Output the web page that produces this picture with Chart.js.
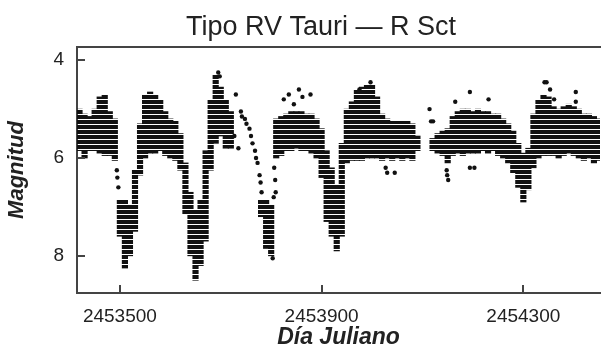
<!DOCTYPE html>
<html>
<head>
<meta charset="utf-8">
<script src="https://cdn.jsdelivr.net/npm/chart.js@4.4.1/dist/chart.umd.min.js"></script>
<style>
  body { margin: 0; background: #fff; }
  #wrap { width: 604px; height: 351px; }
</style>
</head>
<body>
<div id="wrap"><canvas id="grafico" width="604" height="351"></canvas></div>
<script>
// título e eixos
const tituloGrafico = 'Tipo RV Tauri \u2014 R Sct';
const tituloX = 'D\u00eda Juliano';
const tituloY = 'Magnitud';
const ticksX = [2453500, 2453900, 2454300];
const ticksY = [4, 6, 8];

// faixa densa de observações, caixas de 10 dias
const diasFaixa = [
  2453420, 2453430, 2453440, 2453450, 2453460, 2453470, 2453480, 2453490, 2453500,
  2453510, 2453520, 2453530, 2453540, 2453550, 2453560, 2453570, 2453580, 2453590,
  2453600, 2453610, 2453620, 2453630, 2453640, 2453650, 2453660, 2453670, 2453680,
  2453690, 2453700, 2453710, 2453720,
  2453780, 2453790, 2453800, 2453810, 2453820, 2453830, 2453840, 2453850, 2453860,
  2453870, 2453880, 2453890, 2453900, 2453910, 2453920, 2453930, 2453940, 2453950,
  2453960, 2453970, 2453980, 2453990, 2454000, 2454010, 2454020, 2454030, 2454040,
  2454050, 2454060, 2454070, 2454080, 2454090,
  2454120, 2454130, 2454140, 2454150, 2454160, 2454170, 2454180, 2454190, 2454200,
  2454210, 2454220, 2454230, 2454240, 2454250, 2454260, 2454270, 2454280, 2454290,
  2454300, 2454310, 2454320, 2454330, 2454340, 2454350, 2454360, 2454370, 2454380,
  2454390, 2454400, 2454410, 2454420, 2454430, 2454440, 2454450
];
const magMaisBrilhante = [
  5.0, 5.1, 5.15, 5.0, 4.75, 4.7, 5.05, 5.2, 6.85,
  6.85, 6.95, 6.25, 5.3, 4.7, 4.65, 4.7, 4.8, 5.05,
  5.2, 5.25, 5.5, 6.1, 6.7, 7.05, 6.85, 5.85, 4.8,
  4.3, 4.55, 4.8, 5.05,
  6.85, 6.85, 6.95, 5.2, 5.15, 5.1, 5.05, 5.05, 5.05,
  5.1, 5.1, 5.2, 5.4, 5.85, 6.2, 6.55, 5.7, 5.0,
  4.85, 4.6, 4.55, 4.5, 4.5, 4.75, 5.1, 5.2, 5.25,
  5.25, 5.25, 5.25, 5.3, 5.55,
  5.6, 5.5, 5.45, 5.4, 5.15, 5.05, 5.0, 5.0, 5.05,
  5.0, 5.05, 5.05, 5.1, 5.1, 5.2, 5.3, 5.45, 5.7,
  5.9, 5.8, 5.1, 4.8, 4.7, 4.75, 4.95, 5.0, 4.95,
  4.9, 4.95, 5.0, 5.1, 5.1, 5.15, 5.2
];
const magMaisFraca = [
  5.85, 6.0, 5.85, 5.85, 5.9, 5.95, 5.95, 6.05, 7.6,
  8.25, 8.0, 7.5, 6.35, 6.0, 5.9, 5.9, 5.85, 5.95,
  6.0, 6.05, 6.25, 7.15, 8.0, 8.5, 8.2, 7.7, 6.25,
  5.7, 5.55, 5.8, 5.8,
  7.2, 7.85, 8.0, 6.0, 5.95, 5.85, 5.85, 5.8, 5.85,
  5.85, 5.9, 6.0, 6.4, 7.3, 7.6, 7.9, 7.6, 6.1,
  6.05, 6.05, 6.05, 6.0, 6.0, 6.0, 6.05, 6.0, 6.05,
  6.0, 6.05, 6.0, 6.05, 5.85,
  5.85, 5.9, 5.95, 6.1, 5.95, 5.9, 5.95, 5.9, 5.9,
  5.9, 5.85, 5.9, 5.85, 5.95, 6.0, 6.1, 6.3, 6.6,
  6.9, 6.65, 6.2, 6.0, 5.95, 5.95, 5.95, 6.0, 5.95,
  5.9, 5.95, 6.0, 6.05, 6.0, 6.1, 6.05
];

// observações isoladas
const diasPontos = [
  2453494, 2453495, 2453497, 2453695, 2453698, 2453727, 2453730, 2453735,
  2453740, 2453742, 2453748, 2453751, 2453757, 2453760, 2453763, 2453768, 2453770,
  2453773, 2453777, 2453779, 2453781, 2453803, 2453805, 2453806, 2453808, 2453809,
  2453825, 2453835, 2453845, 2453855, 2453862, 2453878,
  2453975, 2453997, 2454027, 2454030, 2454045,
  2454114, 2454117, 2454121, 2454148, 2454149, 2454151, 2454165, 2454194, 2454194,
  2454203, 2454231, 2454342, 2454346, 2454353, 2454361, 2454404, 2454404
];
const magPontos = [
  6.25, 6.4, 6.6, 4.25, 4.33, 5.55, 4.7, 5.8,
  5.05, 5.15, 5.2, 5.3, 5.4, 5.55, 5.7, 5.85, 6.0,
  6.1, 6.35, 6.5, 6.7, 8.05, 6.8, 6.2, 6.45, 6.7,
  4.8, 4.7, 4.9, 4.6, 4.75, 4.7,
  4.6, 4.45, 6.2, 6.3, 6.3,
  5.0, 5.25, 5.25, 6.25, 6.35, 6.45, 4.85, 4.65, 6.2,
  6.2, 4.8, 4.45, 4.45, 4.6, 4.8, 4.65, 4.85
];

// listras horizontais imitando as fileiras de pontos
const padrao = document.createElement('canvas');
padrao.width = 6;
padrao.height = 5;
const pctx = padrao.getContext('2d');
pctx.fillStyle = '#111';
pctx.fillRect(0, 0, 6, 4);
const listras = document.getElementById('grafico').getContext('2d').createPattern(padrao, 'repeat');

const corEixo = '#444';

// título um pouco deslocado e marcas dos ticks para dentro
const extrasPlugin = {
  id: 'extras',
  afterDraw(chart) {
    const c = chart.ctx;
    const a = chart.chartArea;
    const sx = chart.scales.x;
    const sy = chart.scales.y;
    c.save();
    c.font = '27px "Liberation Sans", Arial, sans-serif';
    c.fillStyle = '#222';
    c.textAlign = 'center';
    c.textBaseline = 'alphabetic';
    c.fillText(tituloGrafico, 321, 35);

    c.strokeStyle = corEixo;
    c.lineWidth = 2;
    c.beginPath();
    ticksX.forEach(v => {
      const px = Math.round(sx.getPixelForValue(v));
      c.moveTo(px, a.bottom);
      c.lineTo(px, a.bottom - 8);
    });
    ticksY.forEach(v => {
      const py = Math.round(sy.getPixelForValue(v));
      c.moveTo(a.left, py);
      c.lineTo(a.left + 8, py);
    });
    c.stroke();
    c.restore();
  }
};

const ctx = document.getElementById('grafico').getContext('2d');

const grafico = new Chart(ctx, {
  type: 'bar',
  data: {
    datasets: [{
      label: 'Faixa',
      data: diasFaixa.map((d, i) => ({ x: d, y: [magMaisBrilhante[i], magMaisFraca[i]] })),
      backgroundColor: listras,
      borderWidth: 0,
      barThickness: 5.5
    }, {
      type: 'scatter',
      label: 'Pontos',
      data: diasPontos.map((d, i) => ({ x: d, y: magPontos[i] })),
      backgroundColor: '#111',
      borderWidth: 0,
      pointRadius: 2.2
    }]
  },
  options: {
    responsive: false,
    animation: false,
    layout: { padding: { top: 47, left: 0, right: 0, bottom: 0 } },
    plugins: {
      legend: { display: false },
      tooltip: { enabled: false },
      title: { display: false }
    },
    scales: {
      x: {
        type: 'linear',
        offset: false,
        min: 2453415,
        max: 2454452,
        afterBuildTicks: s => { s.ticks = ticksX.map(v => ({ value: v })); },
        afterFit: s => { s.height = 58; },
        grid: { display: false, drawTicks: false },
        border: { display: true, color: corEixo, width: 2 },
        ticks: {
          padding: 12,
          color: '#222',
          font: { family: '"Liberation Sans", Arial, sans-serif', size: 19 },
          callback: v => String(v),
          maxRotation: 0
        },
        title: {
          display: true,
          text: tituloX,
          color: '#222',
          padding: { top: 0, bottom: 0 },
          font: { family: '"Liberation Sans", Arial, sans-serif', size: 23, weight: 'bold', style: 'italic' }
        }
      },
      xTopo: {
        type: 'linear',
        position: 'top',
        afterFit: s => { s.height = 0; },
        grid: { display: false, drawTicks: false },
        ticks: { display: false },
        border: { display: true, color: corEixo, width: 2 }
      },
      y: {
        reverse: true,
        min: 3.73,
        max: 8.76,
        afterBuildTicks: s => { s.ticks = ticksY.map(v => ({ value: v })); },
        afterFit: s => { s.width = 77; },
        grid: { display: false, drawTicks: false },
        border: { display: true, color: corEixo, width: 2 },
        ticks: {
          padding: 13,
          color: '#222',
          font: { family: '"Liberation Sans", Arial, sans-serif', size: 19 }
        },
        title: {
          display: true,
          text: tituloY,
          color: '#222',
          padding: { top: 4, bottom: 0 },
          font: { family: '"Liberation Sans", Arial, sans-serif', size: 22, weight: 'bold', style: 'italic' }
        }
      }
    }
  },
  plugins: [extrasPlugin]
});
</script>
</body>
</html>
